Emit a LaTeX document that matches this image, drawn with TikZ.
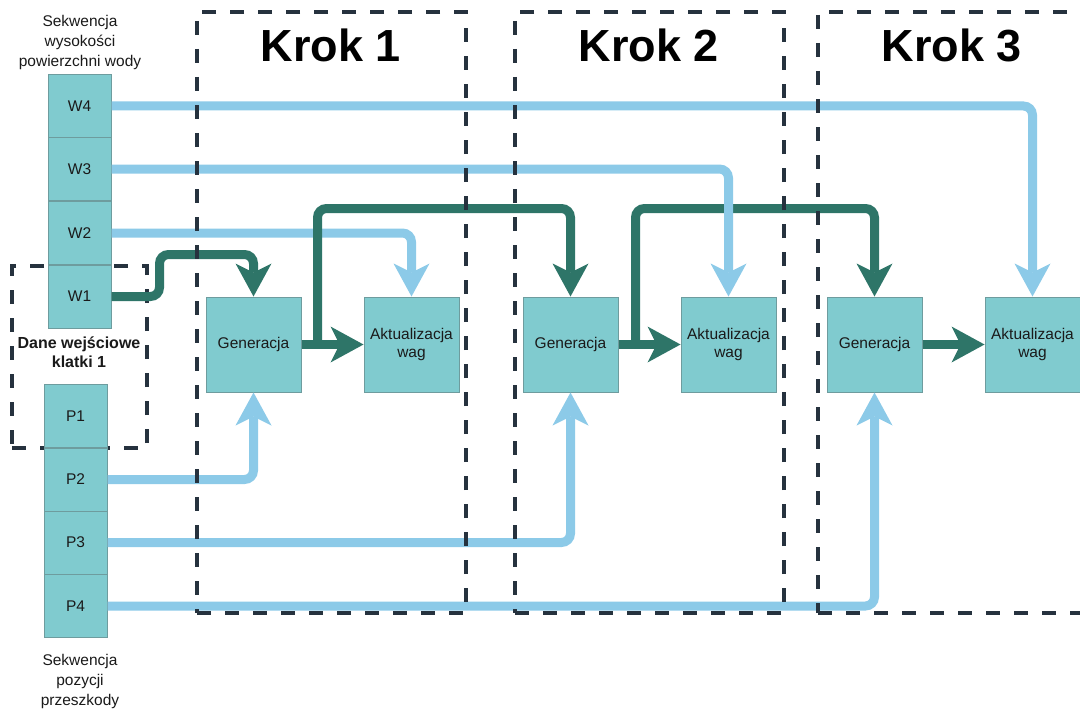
\documentclass[tikz,border=0pt]{standalone}
\usepackage{fontspec}
\setmainfont{Liberation Sans}
\usetikzlibrary{arrows.meta,calc}
\definecolor{boxfill}{HTML}{80CBCF}
\definecolor{boxline}{HTML}{6E9C9E}
\definecolor{gr}{HTML}{2E7568}
\definecolor{bl}{HTML}{8CCAE8}
\definecolor{dsh}{HTML}{26323E}
\definecolor{txt}{HTML}{1A1A1A}
\begin{document}
\begin{tikzpicture}[x=1pt,y=-1pt,
  cell/.style={draw=boxline,fill=boxfill,line width=1pt,minimum width=63pt,minimum height=63pt,inner sep=0pt,text=txt,font=\fontsize{15.5}{18}\selectfont},
  proc/.style={cell,minimum width=95pt,minimum height=95pt,align=center},
  frame/.style={draw=dsh,line width=4pt,dash pattern=on 14pt off 14pt,inner sep=0pt},
  gline/.style={draw=gr,line width=9pt,rounded corners=9pt},
  bline/.style={draw=bl,line width=9pt,rounded corners=9pt},
  tip/.style={-{Stealth[length=33pt,width=36pt,inset=9pt,line width=0pt]}},
  steptitle/.style={font=\fontsize{45}{50}\selectfont\bfseries,text=black,inner sep=0pt},
  caption/.style={font=\fontsize{15.5}{20}\selectfont,text=txt,align=center,inner sep=0pt}]
\useasboundingbox (0,0) rectangle (1080,709);
\fill[white] (0,0) rectangle (1080,709);

% input frame
\node[frame,minimum width=135pt,minimum height=182pt] (dane) at (79.5,357) {};
\node[caption,font=\fontsize{16}{19.5}\selectfont\bfseries] (danelbl) at (79,352) {Dane wejściowe\\klatki 1};

% sequence cells
\node[cell] (w4) at (79.5,106) {W4};
\node[cell] (w3) at (79.5,169) {W3};
\node[cell] (w2) at (79.5,233) {W2};
\node[cell] (w1) at (79.5,296.5) {W1};
\node[cell] (p1) at (75.5,416) {P1};
\node[cell] (p2) at (75.5,479.5) {P2};
\node[cell] (p3) at (75.5,542.5) {P3};
\node[cell] (p4) at (75.5,606) {P4};

\node[caption] (wlbl) at (80,42) {Sekwencja\\wysokości\\powierzchni wody};
\node[caption] (plbl) at (80,681) {Sekwencja\\pozycji\\przeszkody};

% process boxes
\node[proc] (gen1) at (253.5,344.5) {Generacja};
\node[proc] (akt1) at (411.5,344.5) {Aktualizacja\\wag};
\node[proc] (gen2) at (570.5,344.5) {Generacja};
\node[proc] (akt2) at (728.5,344.5) {Aktualizacja\\wag};
\node[proc] (gen3) at (874.5,344.5) {Generacja};
\node[proc] (akt3) at (1032.5,344.5) {Aktualizacja\\wag};

% connectors
\draw[bline,tip] (w2.east) -| (akt1.north);
\draw[gline,tip] (w1.east) -- ++(48,0) |- ($(gen1.north)+(0,-42)$) -- (gen1.north);
\draw[gline,tip] (gen1.east) -- (akt1.west);
\coordinate (b1) at ($(gen1.east)+(16,0)$);
\draw[gline,tip] (b1) |- ($(gen2.north)+(0,-88)$) -- (gen2.north);
\draw[gline,tip] (gen2.east) -- (akt2.west);
\coordinate (b2) at ($(gen2.east)+(17,0)$);
\draw[gline,tip] (b2) |- ($(gen3.north)+(0,-88)$) -- (gen3.north);
\draw[gline,tip] (gen3.east) -- (akt3.west);
\draw[bline,tip] (w3.east) -| (akt2.north);
\draw[bline,tip] (w4.east) -| (akt3.north);
\draw[bline,tip] (p2.east) -| (gen1.south);
\draw[bline,tip] (p3.east) -| (gen2.south);
\draw[bline,tip] (p4.east) -| (gen3.south);

% step frames
\node[frame,minimum width=269pt,minimum height=601pt] (k1) at (331.5,312.5) {};
\node[frame,minimum width=269pt,minimum height=601pt] (k2) at (649.5,312.5) {};
\node[frame,minimum width=272pt,minimum height=601pt] (k3) at (954,312.5) {};
\node[steptitle] (t1) at (331,45) {Krok 1};
\node[steptitle] (t2) at (649,45) {Krok 2};
\node[steptitle] (t3) at (952,45) {Krok 3};
\end{tikzpicture}
\end{document}
